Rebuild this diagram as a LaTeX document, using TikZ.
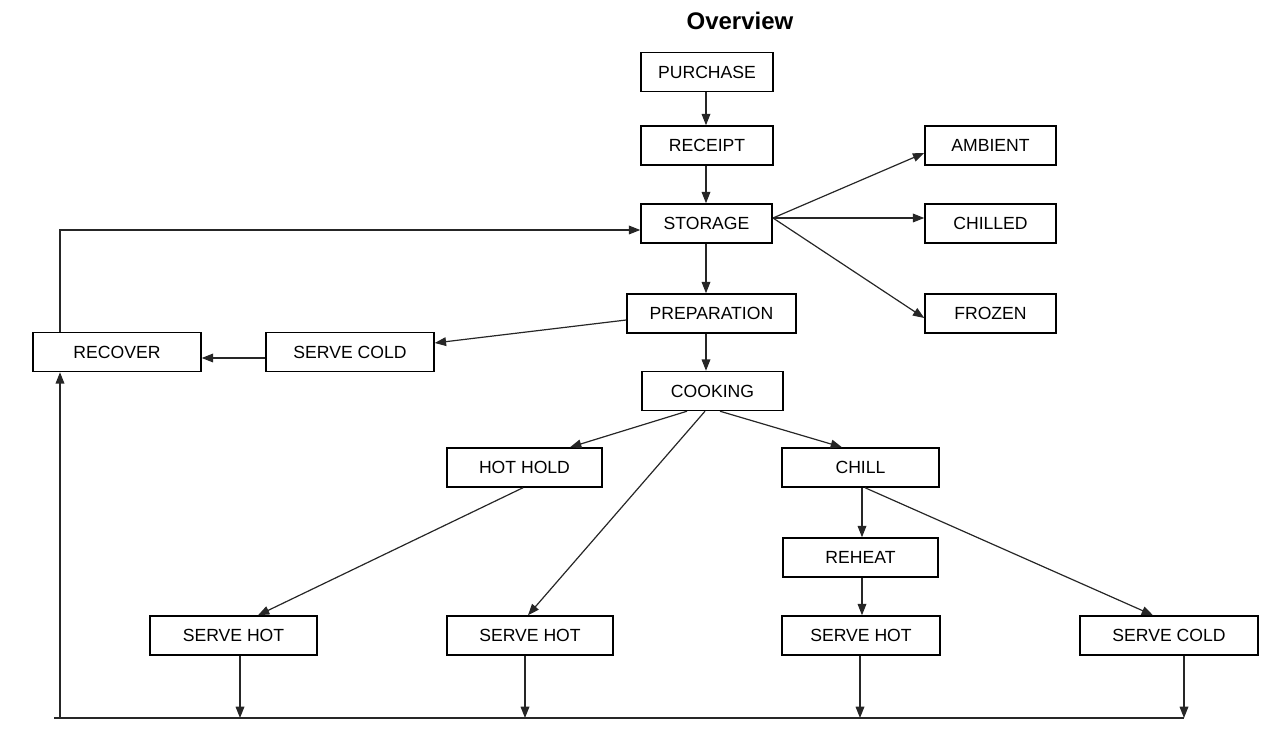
\documentclass[tikz,border=0pt]{standalone}
\usepackage{fontspec}
\setmainfont{Liberation Sans}
\usetikzlibrary{arrows.meta,calc}

\tikzset{
  stagebox/.style={draw=black, line width=1.1pt, fill=white, inner sep=0pt,
    minimum height=39*0.75pt, minimum width=#1*0.75pt,
    font=\fontsize{13.2}{15}\selectfont},
  flow/.style={draw=black!85, line width=0.9pt,
    -{Triangle[length=8.5pt,width=6.5pt]}},
  plain/.style={draw=black!85, line width=1.1pt},
}

\begin{document}
\begin{tikzpicture}[x=0.75pt, y=-0.75pt]
\useasboundingbox (0,0) rectangle (1265,752);

% title
\node[font=\bfseries\fontsize{18}{20}\selectfont] (title) at (740,21) {Overview};

% main chain
\node[stagebox=132] (purchase) at (707,72)    {PURCHASE};
\node[stagebox=132] (receipt)  at (707,145.5) {RECEIPT};
\node[stagebox=131] (storage)  at (706.5,223.5) {STORAGE};
\node[stagebox=169] (prep)     at (711.5,313.5) {PREPARATION};
\node[stagebox=141] (cooking)  at (712.5,391) {COOKING};

% storage types
\node[stagebox=131] (ambient) at (990.5,145.5) {AMBIENT};
\node[stagebox=131] (chilled) at (990.5,223.5) {CHILLED};
\node[stagebox=131] (frozen)  at (990.5,313.5) {FROZEN};

% cold branch and recovery
\node[stagebox=168] (recover)  at (117,352) {RECOVER};
\node[stagebox=168] (coldL)    at (350,352) {SERVE COLD};

% after cooking
\node[stagebox=155] (hothold) at (524.5,467.5) {HOT HOLD};
\node[stagebox=157] (chill)   at (860.5,467.5) {CHILL};
\node[stagebox=155] (reheat)  at (860.5,557.5) {REHEAT};

% service row
\node[stagebox=167] (hot1)  at (233.5,635.5) {SERVE HOT};
\node[stagebox=166] (hot2)  at (530,635.5)   {SERVE HOT};
\node[stagebox=158] (hot3)  at (861,635.5)   {SERVE HOT};
\node[stagebox=178] (coldR) at (1169,635.5)  {SERVE COLD};

% vertical chain
\draw[flow] (706,0 |- purchase.south) -- (706,0 |- receipt.north);
\draw[flow] (706,0 |- receipt.south)  -- (706,0 |- storage.north);
\draw[flow] (706,0 |- storage.south)  -- (706,0 |- prep.north);
\draw[flow] (706,0 |- prep.south)     -- (706,0 |- cooking.north);

% storage fan
\coordinate (fan) at (773,218);
\draw[flow] (fan) -- (ambient.west |- 0,153);
\draw[flow] (fan) -- (chilled.west |- 0,218);
\draw[flow] (fan) -- (frozen.west |- 0,318);

% preparation to cold service and recovery
\draw[flow] (prep.west |- 0,320) -- (coldL.east |- 0,343);
\draw[flow] (coldL.west |- 0,358) -- (recover.east |- 0,358);

% cooking outputs
\draw[flow] (687,0 |- cooking.south) -- (570,0 |- hothold.north);
\draw[flow] (705,0 |- cooking.south) -- (528,0 |- hot2.north);
\draw[flow] (720,0 |- cooking.south) -- (842,0 |- chill.north);
\draw[flow] (523,0 |- hothold.south) -- (258,0 |- hot1.north);
\draw[flow] (862,0 |- chill.south) -- (862,0 |- reheat.north);
\draw[flow] (865,0 |- chill.south) -- (1153,0 |- coldR.north);
\draw[flow] (862,0 |- reheat.south) -- (862,0 |- hot3.north);

% return bus along the bottom
\coordinate (busL) at (54,718);
\coordinate (busR) at (1184,718);
\draw[plain] (busL) -- (busR);
\draw[flow] (240,0 |- hot1.south) -- (240,718);
\draw[flow] (525,0 |- hot2.south) -- (525,718);
\draw[flow] (860,0 |- hot3.south) -- (860,718);
\draw[flow] (1184,0 |- coldR.south) -- (busR);
\draw[flow] (60,718) -- (60,0 |- recover.south);

% recovery loop back to storage
\draw[flow] (60,0 |- recover.north) -- (60,230) -- (storage.west |- 0,230);
\end{tikzpicture}
\end{document}
